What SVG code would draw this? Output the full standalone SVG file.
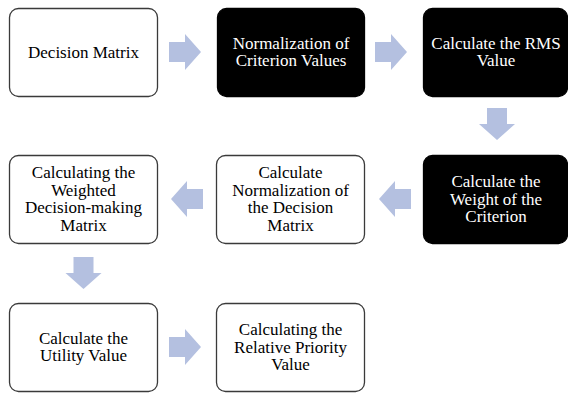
<svg xmlns="http://www.w3.org/2000/svg" width="568" height="394" viewBox="0 0 568 394">
<style>
.w rect{fill:#fff;stroke:#3a3a3a;stroke-width:1.3}
.b rect{fill:#000;stroke:#000;stroke-width:1.3}
text{font-family:"Liberation Serif","Times New Roman",serif;font-size:17px;text-anchor:middle}
.w text{fill:#000}
.b text{fill:#fff}
.arr path{fill:#b4c0e0}
</style>
<rect width="568" height="394" fill="#fff"/>
<g id="connectors" class="arr">
<path d="M169,42 H185 V34 L201,52 L185,70 V62 H169 Z"/>
<path d="M375,42 H391 V34 L407,52 L391,70 V62 H375 Z"/>
<path d="M487,108 V124 H479 L497,140 L515,124 H507 V108 Z"/>
<path d="M411,189 H395 V181 L379,199 L395,217 V209 H411 Z"/>
<path d="M203,189 H187 V181 L171,199 L187,217 V209 H203 Z"/>
<path d="M73.5,257 V273 H65.5 L83.5,289 L101.5,273 H93.5 V257 Z"/>
<path d="M169,337 H185 V329 L201,347 L185,365 V357 H169 Z"/>
</g>
<g id="n1" class="w"><rect x="9.5" y="8.5" width="148" height="88" rx="9"/><text x="83.5" y="57.5">Decision Matrix</text></g>
<g id="n2" class="b"><rect x="217.5" y="8.5" width="147" height="88" rx="9"/><text x="291" y="48.5">Normalization of</text><text x="291" y="66.2">Criterion Values</text></g>
<g id="n3" class="b"><rect x="423.5" y="8.5" width="144" height="88" rx="9"/><text x="496" y="48.5">Calculate the RMS</text><text x="496" y="66.2">Value</text></g>
<g id="n4" class="b"><rect x="423.5" y="155.5" width="144" height="88" rx="9"/><text x="496" y="186.8">Calculate the</text><text x="496" y="204.5">Weight of the</text><text x="496" y="222.2">Criterion</text></g>
<g id="n5" class="w"><rect x="216.5" y="155.5" width="148" height="88" rx="9"/><text x="290.5" y="178">Calculate</text><text x="290.5" y="195.7">Normalization of</text><text x="290.5" y="213.4">the Decision</text><text x="290.5" y="231.1">Matrix</text></g>
<g id="n6" class="w"><rect x="9.5" y="155.5" width="148" height="88" rx="9"/><text x="83.5" y="178">Calculating the</text><text x="83.5" y="195.7">Weighted</text><text x="83.5" y="213.4">Decision-making</text><text x="83.5" y="231.1">Matrix</text></g>
<g id="n7" class="w"><rect x="9.5" y="303.5" width="148" height="88" rx="9"/><text x="83.5" y="343.6">Calculate the</text><text x="83.5" y="361.3">Utility Value</text></g>
<g id="n8" class="w"><rect x="216.5" y="303.5" width="148" height="88" rx="9"/><text x="290.5" y="334.8">Calculating the</text><text x="290.5" y="352.5">Relative Priority</text><text x="290.5" y="370.2">Value</text></g>
</svg>
